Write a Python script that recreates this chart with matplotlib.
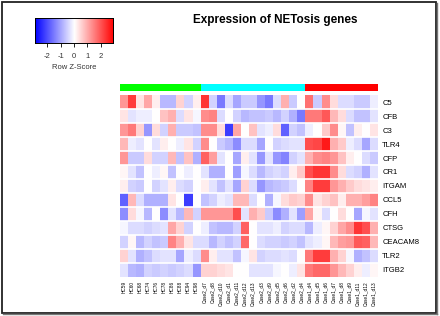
import numpy as np
import matplotlib
matplotlib.use("Agg")
import matplotlib.pyplot as plt
from matplotlib.patches import Rectangle

plt.rcParams['font.family'] = ['Liberation Sans', 'DejaVu Sans']

genes = ["C5", "CFB", "C3", "TLR4", "CFP", "CR1", "ITGAM", "CCL5", "CFH",
         "CTSG", "CEACAM8", "TLR2", "ITGB2"]

hc_samples = ["HC59", "HC60", "HC68", "HC74", "HC76", "HC78", "HC86", "HC88", "HC94", "HC98"]
case2_samples = ["Case2_d7", "Case2_d8", "Case2_d10", "Case2_d1", "Case2_d11", "Case2_d12",
                 "Case2_d13", "Case2_d3", "Case2_d9", "Case2_d5", "Case2_d6", "Case2_d2",
                 "Case2_d4"]
case1_samples = ["Case1_d4", "Case1_d5", "Case1_d6", "Case1_d7", "Case1_d8", "Case1_d9",
                 "Case1_d11", "Case1_d12", "Case1_d13"]

group_colors = ["#00ff00", "#00ffff", "#ff0000"]

# row z-scores, one list per gene (HC | Case2 | Case1)
z_c5 = [1.2, 2.2, 0.3, 1.0, 0.2, -0.8, -0.8, 0.5, -0.5, 0.2, 2.3, -0.5, -1.5, -0.4, -1.0, -0.6, -0.6, -1.2, -1.5, -0.4, 0.9, -0.6, 0.0, 1.6, -0.6, 1.3, 0.4, -0.4, -0.4, -0.6, -0.6, -0.2]
z_cfb = [0.3, -0.3, -0.2, -0.2, 0.0, 0.7, 0.9, -0.4, 0.3, -0.1, 1.3, 1.4, -0.4, 0.0, -0.5, -0.8, -0.7, -0.7, -0.6, -0.8, -0.5, -0.9, -1.5, 1.5, 1.5, 1.9, 0.8, 0.4, -0.4, -0.7, -0.7, -0.3]
z_c3 = [1.2, 1.5, 0.5, -1.2, 0.4, -0.5, 0.9, -0.6, -0.6, -0.7, 1.3, 1.3, 0.4, -2.2, 1.0, 0.0, 0.7, -0.3, -0.2, 0.4, -1.8, -0.5, -0.7, -0.2, 0.0, 0.6, 1.3, 0.1, -0.7, 0.2, 0.0, 0.3]
z_tlr4 = [0.8, -0.2, -0.3, 0.0, -0.3, 0.2, 0.0, -0.2, 0.3, -0.5, 1.3, 0.0, -0.6, -0.8, -1.3, -0.4, -0.4, -1.0, 0.0, -0.5, -0.4, -0.3, -0.3, 2.0, 2.1, 2.6, 0.9, 0.6, -0.2, -0.4, -1.0, -0.4]
z_cfp = [1.2, -0.6, -0.6, 0.4, -0.5, -0.5, 0.8, -0.7, 0.7, -0.9, 1.8, 1.1, -0.3, 0.0, -1.0, 0.2, -0.3, -1.2, -0.3, -1.2, -1.4, -0.5, -0.3, 0.9, 1.3, 1.4, 1.2, 0.7, 0.2, 0.0, -0.4, -0.6]
z_cr1 = [0.1, -0.3, -0.7, 0.0, -0.2, 0.1, -0.7, 0.0, -0.2, 0.0, -0.3, -0.9, -0.9, 0.0, -1.1, -0.1, -0.4, -0.8, -0.5, -0.4, -0.5, 0.2, 0.6, 2.0, 2.3, 2.3, 1.3, 0.4, -0.4, -0.5, -0.9, -0.3]
z_itgam = [0.2, -0.5, -0.6, 0.0, -0.5, -0.3, 0.2, -0.4, -0.5, 0.0, 0.2, -0.3, -0.7, -0.3, -1.0, 0.5, -0.4, -1.2, -0.8, -0.7, -0.6, -0.4, 0.0, 1.4, 2.2, 2.2, 1.2, 0.9, 0.6, 0.4, 0.3, 0.2]
z_ccl5 = [-1.8, 0.8, -0.4, -0.9, -0.9, -0.9, 0.3, 0.0, -2.2, 0.0, -0.7, -0.5, -0.2, -0.3, 0.8, 0.8, -0.4, 0.0, -0.9, -0.1, 0.4, 0.6, 0.5, 1.3, 0.3, 0.5, 0.7, 0.2, 0.9, 0.9, 1.1, 1.4]
z_cfh = [-1.3, 0.4, -0.1, -0.8, 0.0, -1.3, -0.3, -0.8, 0.8, -0.5, 1.2, 1.2, 1.2, 1.2, 2.0, -0.3, 0.9, 0.6, -0.6, -1.3, -0.9, -0.3, -1.1, 1.0, 0.1, -0.4, 0.0, 0.4, 0.0, -1.0, -0.1, -0.3]
z_ctsg = [-0.1, -0.4, -0.4, -0.5, -0.4, -0.3, 1.0, 0.5, -0.5, 0.0, -0.2, -0.7, -0.8, -0.8, -0.5, 1.8, 0.0, -0.3, -0.3, -0.2, -0.5, -0.4, -0.4, -0.8, -0.2, 0.1, 0.5, 1.0, 1.3, 2.3, 2.0, 0.9]
z_ceacam8 = [-0.5, 0.1, -0.8, -0.5, -0.7, -0.6, 1.4, 0.9, 0.3, -0.4, -0.4, -0.8, -0.5, -0.7, -0.5, 1.7, 0.0, -0.4, -0.5, -0.5, -0.6, -0.5, -0.7, -0.3, -0.2, 0.1, 0.8, 1.1, 1.2, 1.9, 1.8, 0.8]
z_tlr2 = [0.5, -0.3, -0.9, -0.7, -0.4, -0.3, -0.3, -1.0, -0.2, -0.4, 1.3, 0.2, -0.3, -0.3, -0.7, -0.1, 0.3, -0.5, -0.4, -0.4, -0.3, -0.4, 0.0, 1.5, 2.2, 2.2, 0.9, 0.5, -0.1, -0.9, -0.7, -0.4]
z_itgb2 = [-0.3, -0.8, -0.9, -0.5, -0.6, -0.5, -0.6, -0.5, -0.4, -1.2, 0.5, 0.5, 0.4, 0.3, 0.0, 0.0, -0.3, -0.3, -0.3, -0.1, 0.0, -0.2, 0.3, 1.5, 1.7, 1.7, 1.2, 0.8, 0.5, 0.2, -0.2, 0.1]

key_ticks = [-2, -1, 0, 1, 2]
zlim = 2.9

samples = hc_samples + case2_samples + case1_samples
z = np.array([z_c5, z_cfb, z_c3, z_tlr4, z_cfp, z_cr1, z_itgam, z_ccl5, z_cfh,
              z_ctsg, z_ceacam8, z_tlr2, z_itgb2])
groups = [0] * len(hc_samples) + [1] * len(case2_samples) + [2] * len(case1_samples)

W, H = 440, 316
fig = plt.figure(figsize=(W / 100, H / 100), dpi=100)

def px_axes(x0, y0, x1, y1):
    # axes from pixel box (top-left origin)
    return fig.add_axes([x0 / W, 1 - y1 / H, (x1 - x0) / W, (y1 - y0) / H])

# main heatmap
ax = px_axes(120, 95, 378, 277)
ax.imshow(z, cmap="bwr", vmin=-zlim, vmax=zlim, aspect="auto", interpolation="nearest")
for i in range(len(genes) - 1):
    ax.axhline(i + 0.5, color="white", lw=1.2)
ax.set_yticks(range(len(genes)))
ax.set_yticklabels(genes, fontsize=5.5)
ax.yaxis.tick_right()
ax.set_xticks(range(len(samples)))
ax.set_xticklabels(samples, rotation=90, fontsize=3.4, va="top")
ax.tick_params(length=0, pad=3)
for s in ax.spines.values():
    s.set_visible(False)

# group colour bar
axg = px_axes(120, 84, 378, 91)
axg.imshow([groups], cmap=matplotlib.colors.ListedColormap(group_colors), vmin=-0.5, vmax=2.5,
           aspect="auto", interpolation="nearest")
axg.set_xticks([])
axg.set_yticks([])
for s in axg.spines.values():
    s.set_visible(False)

# colour key
axk = px_axes(35, 18, 113, 43)
grad = np.linspace(-zlim, zlim, 256).reshape(1, -1)
axk.imshow(grad, cmap="bwr", vmin=-zlim, vmax=zlim, aspect="auto",
           extent=[-zlim, zlim, 0, 1])
axk.set_yticks([])
axk.set_xticks(key_ticks)
axk.set_xticklabels([str(t) for t in key_ticks], fontsize=5.5, color="#333333")
axk.tick_params(axis="x", length=3, width=0.6, pad=4)
axk.set_xlabel("Row Z-Score", fontsize=5.5, labelpad=3, color="#333333")
for s in axk.spines.values():
    s.set_linewidth(0.7)

fig.text(275 / W, 1 - 20 / H, "Expression of NETosis genes", fontsize=8.5,
         fontweight="bold", ha="center", va="center")

# outer frame, heavier on the right and bottom edge
fig.patches.append(Rectangle((2 / W, 1 - 313 / H), 434 / W, 311.5 / H, transform=fig.transFigure,
                             fill=False, edgecolor="#222222", lw=1.3))
fig.add_artist(plt.Line2D([3 / W, 437 / W], [1 - 314 / H, 1 - 314 / H], transform=fig.transFigure,
                          color="#777777", lw=1.0))
fig.add_artist(plt.Line2D([437 / W, 437 / W], [1 - 314 / H, 1 - 3 / H], transform=fig.transFigure,
                          color="#777777", lw=1.0))

fig.savefig("out.png", dpi=100)
